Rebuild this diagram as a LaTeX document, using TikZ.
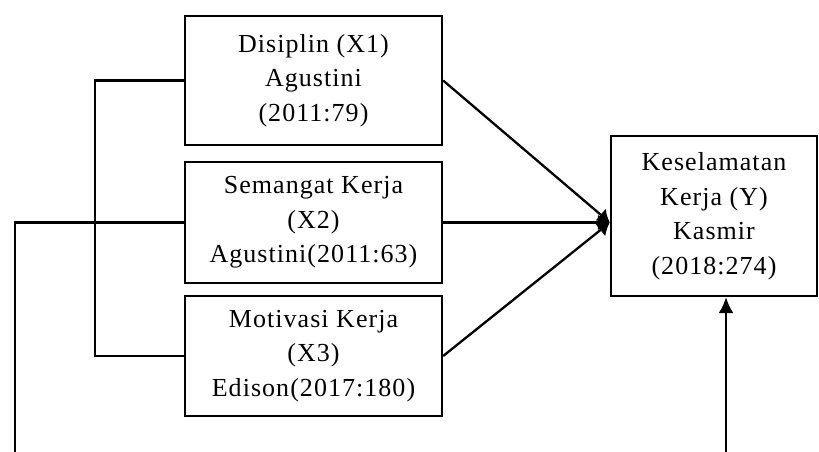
\documentclass[tikz,border=0pt]{standalone}
\usepackage{fontspec}
\setmainfont{Liberation Serif}[LetterSpace=4]
\usetikzlibrary{arrows.meta}
\begin{document}
\begin{tikzpicture}[x=1pt,y=-1pt,
  box/.style={draw,line width=2.3pt,inner sep=0pt,align=center,
    font=\fontsize{26}{34.5}\selectfont},
  conn/.style={line width=2.3pt},
  arr/.style={line width=2.3pt,-{Latex[length=12pt,width=16pt]}},
  uparr/.style={line width=2.3pt,-{Latex[length=16pt,width=15pt]}}]
\useasboundingbox (0,0) rectangle (819,451);
\node[box,minimum width=257pt,minimum height=129pt] (b1) at (313.5,80.5) {Disiplin (X1)\\Agustini\\(2011:79)};
\node[box,minimum width=257pt,minimum height=121pt] (b2) at (313.5,222.5) {Semangat Kerja\\(X2)\\Agustini(2011:63)};
\node[box,minimum width=257pt,minimum height=120pt] (b3) at (313.5,356) {Motivasi Kerja\\(X3)\\Edison(2017:180)};
\node[box,minimum width=206pt,minimum height=160pt] (y) at (714,216) {Keselamatan\\Kerja (Y)\\Kasmir\\(2018:274)};
\coordinate (bl) at (15,452);
\coordinate (yb) at (726,452);
\draw[conn] (b1.west) -- ++(-89,0) |- (b3.west);
\draw[conn] (b2.west) -| (bl);
\draw[arr] (b1.east) -- (y.west |- b2.east);
\draw[arr] (b3.east) -- (y.west |- b2.east);
\draw[arr] (b2.east) -- (y.west |- b2.east);
\draw[uparr] (yb) -- (yb |- y.south);
\end{tikzpicture}
\end{document}
